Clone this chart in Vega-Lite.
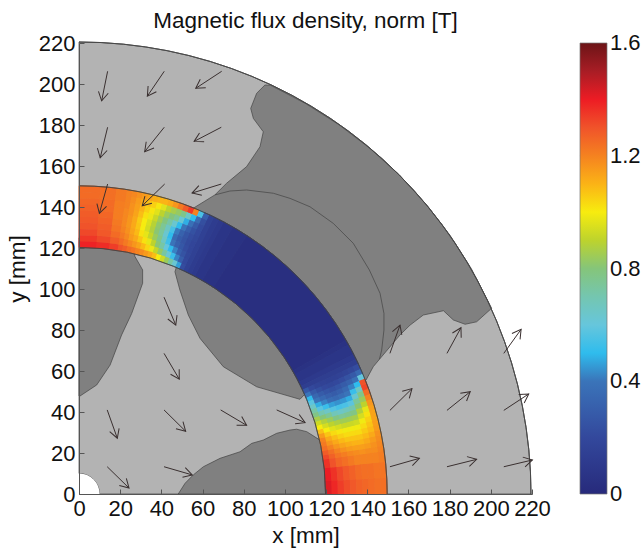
{"$schema":"https://vega.github.io/schema/vega-lite/v6.json","width":453,"height":451,"autosize":{"type":"none"},"padding":{"left":79,"top":43,"right":112,"bottom":55},"background":"white",
"title":{"text":"Magnetic flux density, norm [T]","font":"Liberation Sans","fontSize":22.5,"fontWeight":"normal","anchor":"middle","offset":0,"color":"#111"},
"config":{"view":{"stroke":null},"font":"Liberation Sans"},
"resolve":{"legend":{"color":"independent","stroke":"independent"}},
"datasets":{
"disc":[{"p":0,"q":90,"r":10,"s":220}],
"hole":[{"p":0,"q":90,"r":0,"s":10}],
"edges":[{"p":0,"q":90,"r":120,"s":120},{"p":0,"q":90,"r":150,"s":150},{"p":0,"q":90,"r":220,"s":220}],
"barticks":[{"x":243.3,"x2":245.7,"y":59.5},{"x":254,"x2":256.4,"y":59.5},{"x":243.3,"x2":245.7,"y":110},{"x":254,"x2":256.4,"y":110},{"x":243.3,"x2":245.7,"y":165},{"x":254,"x2":256.4,"y":165}],
"regions":[
{"id":"a","i":1,"x":90.3,"y":199.5},{"id":"a","i":2,"x":86.3,"y":195.5},{"id":"a","i":3,"x":83.4,"y":188.1},{"id":"a","i":4,"x":84.7,"y":183.2},{"id":"a","i":5,"x":89.5,"y":176.7},{"id":"a","i":6,"x":87.9,"y":169.4},{"id":"a","i":7,"x":81.4,"y":159.7},{"id":"a","i":8,"x":71.7,"y":151.6},{"id":"a","i":9,"x":66,"y":145.9},{"id":"a","i":10,"x":55.5,"y":139.4},{"id":"a","i":11,"x":51.7,"y":124.7},{"id":"a","i":12,"x":95.5,"y":95.5},{"id":"a","i":13,"x":125.2,"y":50.6},{"id":"a","i":14,"x":139.4,"y":55.6},{"id":"a","i":15,"x":142.9,"y":62.1},{"id":"a","i":16,"x":145.9,"y":65.7},{"id":"a","i":17,"x":155.9,"y":77.6},{"id":"a","i":18,"x":160.8,"y":82.4},{"id":"a","i":19,"x":167.2,"y":87.3},{"id":"a","i":20,"x":177,"y":89.4},{"id":"a","i":21,"x":181.8,"y":84.9},{"id":"a","i":22,"x":187.5,"y":82.8},{"id":"a","i":23,"x":193.1,"y":84},{"id":"a","i":24,"x":200.4,"y":90.6},{"id":"a","i":25,"x":190.5,"y":110},{"id":"a","i":26,"x":180.2,"y":126.2},{"id":"a","i":27,"x":168.5,"y":141.4},{"id":"a","i":28,"x":155.6,"y":155.6},{"id":"a","i":29,"x":141.4,"y":168.5},{"id":"a","i":30,"x":126.2,"y":180.2},{"id":"a","i":31,"x":110,"y":190.5},{"id":"a","i":32,"x":93,"y":199.4},{"id":"a","i":33,"x":90.3,"y":199.5},
{"id":"b","i":1,"x":46.6,"y":108.4},{"id":"b","i":2,"x":49,"y":99.5},{"id":"b","i":3,"x":53.1,"y":87.3},{"id":"b","i":4,"x":58.8,"y":75.9},{"id":"b","i":5,"x":70.1,"y":62.1},{"id":"b","i":6,"x":86.3,"y":52.3},{"id":"b","i":7,"x":107.3,"y":46.2},{"id":"b","i":8,"x":109.8,"y":48.8},{"id":"b","i":9,"x":125.2,"y":50.6},{"id":"b","i":10,"x":95.5,"y":95.5},{"id":"b","i":11,"x":51.7,"y":124.7},{"id":"b","i":12,"x":46.6,"y":108.4},
{"id":"c","i":1,"x":0,"y":125},{"id":"c","i":2,"x":25,"y":125},{"id":"c","i":3,"x":27.2,"y":115.8},{"id":"c","i":4,"x":30.9,"y":109.3},{"id":"c","i":5,"x":30.9,"y":102.8},{"id":"c","i":6,"x":25.6,"y":88.1},{"id":"c","i":7,"x":20.7,"y":77.6},{"id":"c","i":8,"x":15.1,"y":62.9},{"id":"c","i":9,"x":8.6,"y":53.2},{"id":"c","i":10,"x":0.5,"y":47.8},{"id":"c","i":11,"x":0,"y":47.8},{"id":"c","i":12,"x":0,"y":125},
{"id":"d","i":1,"x":48.2,"y":0},{"id":"d","i":2,"x":51.5,"y":5.2},{"id":"d","i":3,"x":55.5,"y":9.3},{"id":"d","i":4,"x":60.4,"y":13.3},{"id":"d","i":5,"x":68.5,"y":17.4},{"id":"d","i":6,"x":78.2,"y":20.6},{"id":"d","i":7,"x":83.9,"y":24.7},{"id":"d","i":8,"x":89.5,"y":26.3},{"id":"d","i":9,"x":96,"y":29.6},{"id":"d","i":10,"x":102.5,"y":31.2},{"id":"d","i":11,"x":105.7,"y":31.6},{"id":"d","i":12,"x":110.6,"y":30.4},{"id":"d","i":13,"x":117,"y":26.3},{"id":"d","i":14,"x":122,"y":20},{"id":"d","i":15,"x":125,"y":0},{"id":"d","i":16,"x":48.2,"y":0}],
"seam":[{"i":1,"x":66,"y":145.9},{"i":2,"x":73.3,"y":147.8},{"i":3,"x":81.4,"y":148.3},{"i":4,"x":94.4,"y":146.7},{"i":5,"x":102.5,"y":144.2},{"i":6,"x":112.2,"y":140.1},{"i":7,"x":123.5,"y":132},{"i":8,"x":133.2,"y":122.3},{"i":9,"x":141,"y":109.3},{"i":10,"x":146.2,"y":97.9},{"i":11,"x":148.1,"y":88.1},{"i":12,"x":148.1,"y":80},{"i":13,"x":147,"y":70.2},{"i":14,"x":145.9,"y":65.7}],
"arrows":[
{"x":13.9,"y":206.2,"x2":11,"y2":191.8,"a":191.4},{"x":41.4,"y":206.2,"x2":33.2,"y2":194.1,"a":214.1},{"x":69.3,"y":206.2,"x2":56.7,"y2":197.9,"a":236.6},
{"x":13.9,"y":178.9,"x2":10.3,"y2":164,"a":193.6},{"x":41.4,"y":178.9,"x2":31.9,"y2":167,"a":218.6},{"x":69.1,"y":178.9,"x2":55.9,"y2":172,"a":242.4},
{"x":13.9,"y":151.2,"x2":9.9,"y2":136.9,"a":195.6},{"x":41.6,"y":151.2,"x2":30.7,"y2":140.6,"a":225.8},{"x":69.1,"y":151.2,"x2":54.9,"y2":146.8,"a":252.8},
{"x":41.3,"y":96,"x2":47,"y2":82.4,"a":157.3},{"x":41.3,"y":68.6,"x2":48.7,"y2":56,"a":149.6},
{"x":13.7,"y":41,"x2":18.6,"y2":27.2,"a":160.5},{"x":41.3,"y":41,"x2":51.8,"y2":30.6,"a":134.7},{"x":68.8,"y":41,"x2":81.4,"y2":33.5,"a":120.8},{"x":96,"y":41,"x2":109.8,"y2":34.8,"a":114.2},
{"x":13.7,"y":13.3,"x2":24.3,"y2":2.9,"a":134.5},{"x":41.3,"y":13.3,"x2":55,"y2":9.3,"a":106.3},
{"x":151,"y":13.3,"x2":165.3,"y2":17.4,"a":74},{"x":178.7,"y":13.3,"x2":193.1,"y2":16.9,"a":76},{"x":206.3,"y":13.3,"x2":220.2,"y2":16.6,"a":76.6},
{"x":151,"y":40.8,"x2":161.7,"y2":51.4,"a":45.3},{"x":178.7,"y":40.8,"x2":190,"y2":49.9,"a":51.2},{"x":206.3,"y":40.8,"x2":218.4,"y2":48.8,"a":56.5},
{"x":151,"y":68.6,"x2":155.9,"y2":82.4,"a":19.5},{"x":178.7,"y":68.6,"x2":185.5,"y2":81.1,"a":28.5},{"x":206.3,"y":68.6,"x2":214.7,"y2":80.3,"a":35.7}],
"cells":[
{"p":30,"q":57,"r":120,"s":150,"b":0.03},{"p":29,"q":30,"r":120,"s":150,"b":0.05},{"p":27,"q":29,"r":120,"s":150,"b":0.07},{"p":26,"q":27,"r":120,"s":150,"b":0.1},{"p":25,"q":26,"r":120,"s":150,"b":0.13},{"p":57,"q":60,"r":120,"s":150,"b":0.05},{"p":60,"q":62,"r":120,"s":150,"b":0.07},{"p":62,"q":63,"r":120,"s":150,"b":0.1},{"p":63,"q":64,"r":120,"s":150,"b":0.12},{"p":64,"q":65,"r":120,"s":150,"b":0.15},
{"p":86,"q":90,"r":120,"s":123,"b":1.39},{"p":86,"q":90,"r":123,"s":126,"b":1.35},{"p":86,"q":90,"r":126,"s":129,"b":1.32},{"p":86,"q":90,"r":129,"s":132,"b":1.3},{"p":86,"q":90,"r":132,"s":135,"b":1.29},{"p":86,"q":90,"r":135,"s":138,"b":1.28},{"p":86,"q":90,"r":138,"s":141,"b":1.27},{"p":86,"q":90,"r":141,"s":144,"b":1.26},{"p":86,"q":90,"r":144,"s":147,"b":1.25},{"p":86,"q":90,"r":147,"s":150,"b":1.25},
{"p":83,"q":86,"r":120,"s":123,"b":1.37},{"p":83,"q":86,"r":123,"s":126,"b":1.32},{"p":83,"q":86,"r":126,"s":129,"b":1.29},{"p":83,"q":86,"r":129,"s":132,"b":1.28},{"p":83,"q":86,"r":132,"s":135,"b":1.27},{"p":83,"q":86,"r":135,"s":138,"b":1.26},{"p":83,"q":86,"r":138,"s":141,"b":1.25},{"p":83,"q":86,"r":141,"s":144,"b":1.25},{"p":83,"q":86,"r":144,"s":147,"b":1.24},{"p":83,"q":86,"r":147,"s":150,"b":1.24},
{"p":81,"q":83,"r":120,"s":123,"b":1.34},{"p":81,"q":83,"r":123,"s":126,"b":1.28},{"p":81,"q":83,"r":126,"s":129,"b":1.25},{"p":81,"q":83,"r":129,"s":132,"b":1.23},{"p":81,"q":83,"r":132,"s":135,"b":1.22},{"p":81,"q":83,"r":135,"s":138,"b":1.21},{"p":81,"q":83,"r":138,"s":141,"b":1.21},{"p":81,"q":83,"r":141,"s":144,"b":1.21},{"p":81,"q":83,"r":144,"s":147,"b":1.22},{"p":81,"q":83,"r":147,"s":150,"b":1.22},
{"p":80,"q":81,"r":120,"s":123,"b":1.3},{"p":80,"q":81,"r":123,"s":126,"b":1.25},{"p":80,"q":81,"r":126,"s":129,"b":1.22},{"p":80,"q":81,"r":129,"s":132,"b":1.2},{"p":80,"q":81,"r":132,"s":135,"b":1.19},{"p":80,"q":81,"r":135,"s":138,"b":1.19},{"p":80,"q":81,"r":138,"s":141,"b":1.19},{"p":80,"q":81,"r":141,"s":144,"b":1.2},{"p":80,"q":81,"r":144,"s":147,"b":1.2},{"p":80,"q":81,"r":147,"s":150,"b":1.2},
{"p":79,"q":80,"r":120,"s":123,"b":1.28},{"p":79,"q":80,"r":123,"s":126,"b":1.22},{"p":79,"q":80,"r":126,"s":129,"b":1.19},{"p":79,"q":80,"r":129,"s":132,"b":1.17},{"p":79,"q":80,"r":132,"s":135,"b":1.16},{"p":79,"q":80,"r":135,"s":138,"b":1.16},{"p":79,"q":80,"r":138,"s":141,"b":1.17},{"p":79,"q":80,"r":141,"s":144,"b":1.17},{"p":79,"q":80,"r":144,"s":147,"b":1.18},{"p":79,"q":80,"r":147,"s":150,"b":1.19},
{"p":78,"q":79,"r":120,"s":123,"b":1.25},{"p":78,"q":79,"r":123,"s":126,"b":1.19},{"p":78,"q":79,"r":126,"s":129,"b":1.15},{"p":78,"q":79,"r":129,"s":132,"b":1.13},{"p":78,"q":79,"r":132,"s":135,"b":1.12},{"p":78,"q":79,"r":135,"s":138,"b":1.12},{"p":78,"q":79,"r":138,"s":141,"b":1.13},{"p":78,"q":79,"r":141,"s":144,"b":1.14},{"p":78,"q":79,"r":144,"s":147,"b":1.15},{"p":78,"q":79,"r":147,"s":150,"b":1.17},
{"p":77,"q":78,"r":120,"s":123,"b":1.23},{"p":77,"q":78,"r":123,"s":126,"b":1.16},{"p":77,"q":78,"r":126,"s":129,"b":1.12},{"p":77,"q":78,"r":129,"s":132,"b":1.09},{"p":77,"q":78,"r":132,"s":135,"b":1.07},{"p":77,"q":78,"r":135,"s":138,"b":1.06},{"p":77,"q":78,"r":138,"s":141,"b":1.08},{"p":77,"q":78,"r":141,"s":144,"b":1.1},{"p":77,"q":78,"r":144,"s":147,"b":1.12},{"p":77,"q":78,"r":147,"s":150,"b":1.15},
{"p":76,"q":77,"r":120,"s":123,"b":1.2},{"p":76,"q":77,"r":123,"s":126,"b":1.13},{"p":76,"q":77,"r":126,"s":129,"b":1.07},{"p":76,"q":77,"r":129,"s":132,"b":1.02},{"p":76,"q":77,"r":132,"s":135,"b":1.0},{"p":76,"q":77,"r":135,"s":138,"b":1.0},{"p":76,"q":77,"r":138,"s":141,"b":1.02},{"p":76,"q":77,"r":141,"s":144,"b":1.05},{"p":76,"q":77,"r":144,"s":147,"b":1.08},{"p":76,"q":77,"r":147,"s":150,"b":1.13},
{"p":75,"q":76,"r":120,"s":123,"b":1.18},{"p":75,"q":76,"r":123,"s":126,"b":1.09},{"p":75,"q":76,"r":126,"s":129,"b":1.02},{"p":75,"q":76,"r":129,"s":132,"b":0.97},{"p":75,"q":76,"r":132,"s":135,"b":0.94},{"p":75,"q":76,"r":135,"s":138,"b":0.95},{"p":75,"q":76,"r":138,"s":141,"b":0.98},{"p":75,"q":76,"r":141,"s":144,"b":1.01},{"p":75,"q":76,"r":144,"s":147,"b":1.05},{"p":75,"q":76,"r":147,"s":150,"b":1.11},
{"p":74,"q":75,"r":120,"s":123,"b":1.15},{"p":74,"q":75,"r":123,"s":126,"b":1.04},{"p":74,"q":75,"r":126,"s":129,"b":0.97},{"p":74,"q":75,"r":129,"s":132,"b":0.91},{"p":74,"q":75,"r":132,"s":135,"b":0.88},{"p":74,"q":75,"r":135,"s":138,"b":0.89},{"p":74,"q":75,"r":138,"s":141,"b":0.92},{"p":74,"q":75,"r":141,"s":144,"b":0.96},{"p":74,"q":75,"r":144,"s":147,"b":1.01},{"p":74,"q":75,"r":147,"s":150,"b":1.1},
{"p":73,"q":74,"r":120,"s":123,"b":1.12},{"p":73,"q":74,"r":123,"s":126,"b":0.98},{"p":73,"q":74,"r":126,"s":129,"b":0.9},{"p":73,"q":74,"r":129,"s":132,"b":0.84},{"p":73,"q":74,"r":132,"s":135,"b":0.81},{"p":73,"q":74,"r":135,"s":138,"b":0.82},{"p":73,"q":74,"r":138,"s":141,"b":0.85},{"p":73,"q":74,"r":141,"s":144,"b":0.9},{"p":73,"q":74,"r":144,"s":147,"b":0.96},{"p":73,"q":74,"r":147,"s":150,"b":1.1},
{"p":72,"q":73,"r":120,"s":123,"b":1.08},{"p":72,"q":73,"r":123,"s":126,"b":0.91},{"p":72,"q":73,"r":126,"s":129,"b":0.81},{"p":72,"q":73,"r":129,"s":132,"b":0.77},{"p":72,"q":73,"r":132,"s":135,"b":0.74},{"p":72,"q":73,"r":135,"s":138,"b":0.75},{"p":72,"q":73,"r":138,"s":141,"b":0.79},{"p":72,"q":73,"r":141,"s":144,"b":0.84},{"p":72,"q":73,"r":144,"s":147,"b":0.9},{"p":72,"q":73,"r":147,"s":150,"b":1.12},
{"p":71,"q":72,"r":120,"s":123,"b":1.0},{"p":71,"q":72,"r":123,"s":126,"b":0.83},{"p":71,"q":72,"r":126,"s":129,"b":0.72},{"p":71,"q":72,"r":129,"s":132,"b":0.66},{"p":71,"q":72,"r":132,"s":135,"b":0.63},{"p":71,"q":72,"r":135,"s":138,"b":0.66},{"p":71,"q":72,"r":138,"s":141,"b":0.72},{"p":71,"q":72,"r":141,"s":144,"b":0.8},{"p":71,"q":72,"r":144,"s":147,"b":0.86},{"p":71,"q":72,"r":147,"s":150,"b":1.16},
{"p":70,"q":71,"r":120,"s":123,"b":0.93},{"p":70,"q":71,"r":123,"s":126,"b":0.73},{"p":70,"q":71,"r":126,"s":129,"b":0.6},{"p":70,"q":71,"r":129,"s":132,"b":0.53},{"p":70,"q":71,"r":132,"s":135,"b":0.5},{"p":70,"q":71,"r":135,"s":138,"b":0.54},{"p":70,"q":71,"r":138,"s":141,"b":0.63},{"p":70,"q":71,"r":141,"s":144,"b":0.75},{"p":70,"q":71,"r":144,"s":147,"b":0.83},{"p":70,"q":71,"r":147,"s":150,"b":1.22},
{"p":69,"q":70,"r":120,"s":123,"b":0.84},{"p":69,"q":70,"r":123,"s":126,"b":0.62},{"p":69,"q":70,"r":126,"s":129,"b":0.5},{"p":69,"q":70,"r":129,"s":132,"b":0.4},{"p":69,"q":70,"r":132,"s":135,"b":0.36},{"p":69,"q":70,"r":135,"s":138,"b":0.41},{"p":69,"q":70,"r":138,"s":141,"b":0.5},{"p":69,"q":70,"r":141,"s":144,"b":0.62},{"p":69,"q":70,"r":144,"s":147,"b":0.77},{"p":69,"q":70,"r":147,"s":150,"b":1.28},
{"p":68,"q":69,"r":120,"s":123,"b":0.72},{"p":68,"q":69,"r":123,"s":126,"b":0.52},{"p":68,"q":69,"r":126,"s":129,"b":0.42},{"p":68,"q":69,"r":129,"s":132,"b":0.32},{"p":68,"q":69,"r":132,"s":135,"b":0.29},{"p":68,"q":69,"r":135,"s":138,"b":0.32},{"p":68,"q":69,"r":138,"s":141,"b":0.4},{"p":68,"q":69,"r":141,"s":144,"b":0.48},{"p":68,"q":69,"r":144,"s":147,"b":0.65},{"p":68,"q":69,"r":147,"s":150,"b":1.35},
{"p":67,"q":68,"r":120,"s":123,"b":0.62},{"p":67,"q":68,"r":123,"s":126,"b":0.42},{"p":67,"q":68,"r":126,"s":129,"b":0.3},{"p":67,"q":68,"r":129,"s":132,"b":0.27},{"p":67,"q":68,"r":132,"s":135,"b":0.25},{"p":67,"q":68,"r":135,"s":138,"b":0.26},{"p":67,"q":68,"r":138,"s":141,"b":0.3},{"p":67,"q":68,"r":141,"s":144,"b":0.38},{"p":67,"q":68,"r":144,"s":147,"b":0.5},{"p":67,"q":68,"r":147,"s":150,"b":1.2},
{"p":66,"q":67,"r":120,"s":123,"b":0.46},{"p":66,"q":67,"r":123,"s":126,"b":0.3},{"p":66,"q":67,"r":126,"s":129,"b":0.25},{"p":66,"q":67,"r":129,"s":132,"b":0.22},{"p":66,"q":67,"r":132,"s":135,"b":0.21},{"p":66,"q":67,"r":135,"s":138,"b":0.22},{"p":66,"q":67,"r":138,"s":141,"b":0.24},{"p":66,"q":67,"r":141,"s":144,"b":0.28},{"p":66,"q":67,"r":144,"s":147,"b":0.36},{"p":66,"q":67,"r":147,"s":150,"b":0.55},
{"p":65,"q":66,"r":120,"s":123,"b":0.22},{"p":65,"q":66,"r":123,"s":126,"b":0.2},{"p":65,"q":66,"r":126,"s":129,"b":0.19},{"p":65,"q":66,"r":129,"s":132,"b":0.18},{"p":65,"q":66,"r":132,"s":135,"b":0.18},{"p":65,"q":66,"r":135,"s":138,"b":0.19},{"p":65,"q":66,"r":138,"s":141,"b":0.2},{"p":65,"q":66,"r":141,"s":144,"b":0.21},{"p":65,"q":66,"r":144,"s":147,"b":0.23},{"p":65,"q":66,"r":147,"s":150,"b":0.3},
{"p":0,"q":3,"r":120,"s":123,"b":1.42},{"p":0,"q":3,"r":123,"s":126,"b":1.38},{"p":0,"q":3,"r":126,"s":129,"b":1.34},{"p":0,"q":3,"r":129,"s":132,"b":1.31},{"p":0,"q":3,"r":132,"s":135,"b":1.29},{"p":0,"q":3,"r":135,"s":138,"b":1.27},{"p":0,"q":3,"r":138,"s":141,"b":1.26},{"p":0,"q":3,"r":141,"s":144,"b":1.25},{"p":0,"q":3,"r":144,"s":147,"b":1.24},{"p":0,"q":3,"r":147,"s":150,"b":1.24},
{"p":3,"q":6,"r":120,"s":123,"b":1.4},{"p":3,"q":6,"r":123,"s":126,"b":1.36},{"p":3,"q":6,"r":126,"s":129,"b":1.32},{"p":3,"q":6,"r":129,"s":132,"b":1.29},{"p":3,"q":6,"r":132,"s":135,"b":1.27},{"p":3,"q":6,"r":135,"s":138,"b":1.25},{"p":3,"q":6,"r":138,"s":141,"b":1.24},{"p":3,"q":6,"r":141,"s":144,"b":1.24},{"p":3,"q":6,"r":144,"s":147,"b":1.23},{"p":3,"q":6,"r":147,"s":150,"b":1.23},
{"p":6,"q":8,"r":120,"s":123,"b":1.36},{"p":6,"q":8,"r":123,"s":126,"b":1.3},{"p":6,"q":8,"r":126,"s":129,"b":1.26},{"p":6,"q":8,"r":129,"s":132,"b":1.24},{"p":6,"q":8,"r":132,"s":135,"b":1.22},{"p":6,"q":8,"r":135,"s":138,"b":1.2},{"p":6,"q":8,"r":138,"s":141,"b":1.2},{"p":6,"q":8,"r":141,"s":144,"b":1.2},{"p":6,"q":8,"r":144,"s":147,"b":1.2},{"p":6,"q":8,"r":147,"s":150,"b":1.21},
{"p":8,"q":9,"r":120,"s":123,"b":1.32},{"p":8,"q":9,"r":123,"s":126,"b":1.27},{"p":8,"q":9,"r":126,"s":129,"b":1.23},{"p":8,"q":9,"r":129,"s":132,"b":1.21},{"p":8,"q":9,"r":132,"s":135,"b":1.19},{"p":8,"q":9,"r":135,"s":138,"b":1.18},{"p":8,"q":9,"r":138,"s":141,"b":1.17},{"p":8,"q":9,"r":141,"s":144,"b":1.18},{"p":8,"q":9,"r":144,"s":147,"b":1.18},{"p":8,"q":9,"r":147,"s":150,"b":1.2},
{"p":9,"q":10,"r":120,"s":123,"b":1.28},{"p":9,"q":10,"r":123,"s":126,"b":1.24},{"p":9,"q":10,"r":126,"s":129,"b":1.2},{"p":9,"q":10,"r":129,"s":132,"b":1.17},{"p":9,"q":10,"r":132,"s":135,"b":1.15},{"p":9,"q":10,"r":135,"s":138,"b":1.14},{"p":9,"q":10,"r":138,"s":141,"b":1.14},{"p":9,"q":10,"r":141,"s":144,"b":1.15},{"p":9,"q":10,"r":144,"s":147,"b":1.17},{"p":9,"q":10,"r":147,"s":150,"b":1.19},
{"p":10,"q":11,"r":120,"s":123,"b":1.24},{"p":10,"q":11,"r":123,"s":126,"b":1.2},{"p":10,"q":11,"r":126,"s":129,"b":1.16},{"p":10,"q":11,"r":129,"s":132,"b":1.13},{"p":10,"q":11,"r":132,"s":135,"b":1.11},{"p":10,"q":11,"r":135,"s":138,"b":1.1},{"p":10,"q":11,"r":138,"s":141,"b":1.1},{"p":10,"q":11,"r":141,"s":144,"b":1.12},{"p":10,"q":11,"r":144,"s":147,"b":1.15},{"p":10,"q":11,"r":147,"s":150,"b":1.18},
{"p":11,"q":12,"r":120,"s":123,"b":1.22},{"p":11,"q":12,"r":123,"s":126,"b":1.16},{"p":11,"q":12,"r":126,"s":129,"b":1.12},{"p":11,"q":12,"r":129,"s":132,"b":1.09},{"p":11,"q":12,"r":132,"s":135,"b":1.07},{"p":11,"q":12,"r":135,"s":138,"b":1.07},{"p":11,"q":12,"r":138,"s":141,"b":1.07},{"p":11,"q":12,"r":141,"s":144,"b":1.09},{"p":11,"q":12,"r":144,"s":147,"b":1.12},{"p":11,"q":12,"r":147,"s":150,"b":1.17},
{"p":12,"q":13,"r":120,"s":123,"b":1.2},{"p":12,"q":13,"r":123,"s":126,"b":1.12},{"p":12,"q":13,"r":126,"s":129,"b":1.08},{"p":12,"q":13,"r":129,"s":132,"b":1.05},{"p":12,"q":13,"r":132,"s":135,"b":1.03},{"p":12,"q":13,"r":135,"s":138,"b":1.03},{"p":12,"q":13,"r":138,"s":141,"b":1.03},{"p":12,"q":13,"r":141,"s":144,"b":1.06},{"p":12,"q":13,"r":144,"s":147,"b":1.09},{"p":12,"q":13,"r":147,"s":150,"b":1.15},
{"p":13,"q":14,"r":120,"s":123,"b":1.15},{"p":13,"q":14,"r":123,"s":126,"b":1.07},{"p":13,"q":14,"r":126,"s":129,"b":1.03},{"p":13,"q":14,"r":129,"s":132,"b":1.01},{"p":13,"q":14,"r":132,"s":135,"b":0.99},{"p":13,"q":14,"r":135,"s":138,"b":0.99},{"p":13,"q":14,"r":138,"s":141,"b":0.99},{"p":13,"q":14,"r":141,"s":144,"b":1.03},{"p":13,"q":14,"r":144,"s":147,"b":1.07},{"p":13,"q":14,"r":147,"s":150,"b":1.14},
{"p":14,"q":15,"r":120,"s":123,"b":1.08},{"p":14,"q":15,"r":123,"s":126,"b":1.0},{"p":14,"q":15,"r":126,"s":129,"b":0.96},{"p":14,"q":15,"r":129,"s":132,"b":0.94},{"p":14,"q":15,"r":132,"s":135,"b":0.92},{"p":14,"q":15,"r":135,"s":138,"b":0.92},{"p":14,"q":15,"r":138,"s":141,"b":0.93},{"p":14,"q":15,"r":141,"s":144,"b":0.99},{"p":14,"q":15,"r":144,"s":147,"b":1.05},{"p":14,"q":15,"r":147,"s":150,"b":1.13},
{"p":15,"q":16,"r":120,"s":123,"b":1.0},{"p":15,"q":16,"r":123,"s":126,"b":0.94},{"p":15,"q":16,"r":126,"s":129,"b":0.9},{"p":15,"q":16,"r":129,"s":132,"b":0.87},{"p":15,"q":16,"r":132,"s":135,"b":0.85},{"p":15,"q":16,"r":135,"s":138,"b":0.85},{"p":15,"q":16,"r":138,"s":141,"b":0.86},{"p":15,"q":16,"r":141,"s":144,"b":0.94},{"p":15,"q":16,"r":144,"s":147,"b":1.02},{"p":15,"q":16,"r":147,"s":150,"b":1.13},
{"p":16,"q":17,"r":120,"s":123,"b":0.93},{"p":16,"q":17,"r":123,"s":126,"b":0.88},{"p":16,"q":17,"r":126,"s":129,"b":0.84},{"p":16,"q":17,"r":129,"s":132,"b":0.78},{"p":16,"q":17,"r":132,"s":135,"b":0.75},{"p":16,"q":17,"r":135,"s":138,"b":0.76},{"p":16,"q":17,"r":138,"s":141,"b":0.78},{"p":16,"q":17,"r":141,"s":144,"b":0.88},{"p":16,"q":17,"r":144,"s":147,"b":0.97},{"p":16,"q":17,"r":147,"s":150,"b":1.14},
{"p":17,"q":18,"r":120,"s":123,"b":0.86},{"p":17,"q":18,"r":123,"s":126,"b":0.8},{"p":17,"q":18,"r":126,"s":129,"b":0.75},{"p":17,"q":18,"r":129,"s":132,"b":0.68},{"p":17,"q":18,"r":132,"s":135,"b":0.65},{"p":17,"q":18,"r":135,"s":138,"b":0.67},{"p":17,"q":18,"r":138,"s":141,"b":0.7},{"p":17,"q":18,"r":141,"s":144,"b":0.81},{"p":17,"q":18,"r":144,"s":147,"b":0.9},{"p":17,"q":18,"r":147,"s":150,"b":1.16},
{"p":18,"q":19,"r":120,"s":123,"b":0.78},{"p":18,"q":19,"r":123,"s":126,"b":0.7},{"p":18,"q":19,"r":126,"s":129,"b":0.65},{"p":18,"q":19,"r":129,"s":132,"b":0.57},{"p":18,"q":19,"r":132,"s":135,"b":0.54},{"p":18,"q":19,"r":135,"s":138,"b":0.55},{"p":18,"q":19,"r":138,"s":141,"b":0.58},{"p":18,"q":19,"r":141,"s":144,"b":0.74},{"p":18,"q":19,"r":144,"s":147,"b":0.84},{"p":18,"q":19,"r":147,"s":150,"b":1.2},
{"p":19,"q":20,"r":120,"s":123,"b":0.72},{"p":19,"q":20,"r":123,"s":126,"b":0.58},{"p":19,"q":20,"r":126,"s":129,"b":0.52},{"p":19,"q":20,"r":129,"s":132,"b":0.46},{"p":19,"q":20,"r":132,"s":135,"b":0.44},{"p":19,"q":20,"r":135,"s":138,"b":0.45},{"p":19,"q":20,"r":138,"s":141,"b":0.48},{"p":19,"q":20,"r":141,"s":144,"b":0.63},{"p":19,"q":20,"r":144,"s":147,"b":0.77},{"p":19,"q":20,"r":147,"s":150,"b":1.25},
{"p":20,"q":21,"r":120,"s":123,"b":0.65},{"p":20,"q":21,"r":123,"s":126,"b":0.48},{"p":20,"q":21,"r":126,"s":129,"b":0.42},{"p":20,"q":21,"r":129,"s":132,"b":0.37},{"p":20,"q":21,"r":132,"s":135,"b":0.35},{"p":20,"q":21,"r":135,"s":138,"b":0.37},{"p":20,"q":21,"r":138,"s":141,"b":0.4},{"p":20,"q":21,"r":141,"s":144,"b":0.52},{"p":20,"q":21,"r":144,"s":147,"b":0.66},{"p":20,"q":21,"r":147,"s":150,"b":1.32},
{"p":21,"q":22,"r":120,"s":123,"b":0.58},{"p":21,"q":22,"r":123,"s":126,"b":0.4},{"p":21,"q":22,"r":126,"s":129,"b":0.35},{"p":21,"q":22,"r":129,"s":132,"b":0.31},{"p":21,"q":22,"r":132,"s":135,"b":0.29},{"p":21,"q":22,"r":135,"s":138,"b":0.31},{"p":21,"q":22,"r":138,"s":141,"b":0.35},{"p":21,"q":22,"r":141,"s":144,"b":0.42},{"p":21,"q":22,"r":144,"s":147,"b":0.5},{"p":21,"q":22,"r":147,"s":150,"b":1.3},
{"p":22,"q":23,"r":120,"s":123,"b":0.5},{"p":22,"q":23,"r":123,"s":126,"b":0.34},{"p":22,"q":23,"r":126,"s":129,"b":0.29},{"p":22,"q":23,"r":129,"s":132,"b":0.26},{"p":22,"q":23,"r":132,"s":135,"b":0.24},{"p":22,"q":23,"r":135,"s":138,"b":0.26},{"p":22,"q":23,"r":138,"s":141,"b":0.29},{"p":22,"q":23,"r":141,"s":144,"b":0.32},{"p":22,"q":23,"r":144,"s":147,"b":0.38},{"p":22,"q":23,"r":147,"s":150,"b":0.6},
{"p":23,"q":24,"r":120,"s":123,"b":0.4},{"p":23,"q":24,"r":123,"s":126,"b":0.28},{"p":23,"q":24,"r":126,"s":129,"b":0.23},{"p":23,"q":24,"r":129,"s":132,"b":0.2},{"p":23,"q":24,"r":132,"s":135,"b":0.19},{"p":23,"q":24,"r":135,"s":138,"b":0.2},{"p":23,"q":24,"r":138,"s":141,"b":0.22},{"p":23,"q":24,"r":141,"s":144,"b":0.25},{"p":23,"q":24,"r":144,"s":147,"b":0.28},{"p":23,"q":24,"r":147,"s":150,"b":0.35},
{"p":24,"q":25,"r":120,"s":123,"b":0.27},{"p":24,"q":25,"r":123,"s":126,"b":0.2},{"p":24,"q":25,"r":126,"s":129,"b":0.17},{"p":24,"q":25,"r":129,"s":132,"b":0.16},{"p":24,"q":25,"r":132,"s":135,"b":0.15},{"p":24,"q":25,"r":135,"s":138,"b":0.15},{"p":24,"q":25,"r":138,"s":141,"b":0.16},{"p":24,"q":25,"r":141,"s":144,"b":0.17},{"p":24,"q":25,"r":144,"s":147,"b":0.19},{"p":24,"q":25,"r":147,"s":150,"b":0.22}
]},
"layer":[
{"data":{"name":"disc"},"mark":{"type":"arc","fill":"#b3b3b3","stroke":"#444","strokeWidth":0.7},
"encoding":{"x":{"datum":0,"type":"quantitative","scale":{"domain":[0,220],"nice":false},"axis":{"values":[0,20,40,60,80,100,120,140,160,180,200,220],"title":"x [mm]","titleFont":"Liberation Sans","titleFontSize":22.5,"titleFontWeight":"normal","titleColor":"#111","titlePadding":5,"labelFont":"Liberation Sans","labelFontSize":22,"labelColor":"#111","labelPadding":9,"grid":false,"domainColor":"#555","tickColor":"#555","tickSize":-5,"zindex":1,"labelOverlap":false,"labelFlush":false}},
"y":{"datum":0,"type":"quantitative","scale":{"domain":[0,220],"nice":false},"axis":{"values":[0,20,40,60,80,100,120,140,160,180,200,220],"title":"y [mm]","titleFont":"Liberation Sans","titleFontSize":22.5,"titleFontWeight":"normal","titleColor":"#111","titlePadding":9,"labelFont":"Liberation Sans","labelFontSize":22,"labelColor":"#111","labelPadding":9,"grid":false,"domainColor":"#555","tickColor":"#555","tickSize":-5,"zindex":1,"labelOverlap":false,"labelFlush":false}},
"theta":{"field":"p","type":"quantitative","stack":null,"scale":{"domain":[90,0],"range":[0,1.5708]}},"theta2":{"field":"q"},
"radius":{"field":"r","type":"quantitative","scale":{"type":"linear","domain":[0,220],"range":[0,452]}},"radius2":{"field":"s"}}},
{"data":{"name":"hole"},"mark":{"type":"arc","fill":"white","stroke":null},
"encoding":{"x":{"datum":0,"type":"quantitative"},"y":{"datum":0,"type":"quantitative"},
"theta":{"field":"p","type":"quantitative","stack":null,"scale":{"domain":[90,0],"range":[0,1.5708]}},"theta2":{"field":"q"},
"radius":{"field":"r","type":"quantitative","scale":{"type":"linear","domain":[0,220],"range":[0,452]}},"radius2":{"field":"s"}}},
{"data":{"name":"regions"},"mark":{"type":"line","fill":"#808080","stroke":"#444","strokeWidth":0.7},
"encoding":{"x":{"field":"x","type":"quantitative"},"y":{"field":"y","type":"quantitative"},"detail":{"field":"id"},"order":{"field":"i"}}},
{"data":{"name":"seam"},"mark":{"type":"line","stroke":"#444","strokeWidth":0.7},
"encoding":{"x":{"field":"x","type":"quantitative"},"y":{"field":"y","type":"quantitative"},"order":{"field":"i"}}},
{"data":{"name":"cells"},"mark":{"type":"arc","fillOpacity":0,"strokeWidth":0.8},
"encoding":{"x":{"datum":0,"type":"quantitative"},"y":{"datum":0,"type":"quantitative"},
"theta":{"field":"p","type":"quantitative","stack":null,"scale":{"domain":[90,0],"range":[0,1.5708]}},"theta2":{"field":"q"},
"radius":{"field":"r","type":"quantitative","scale":{"type":"linear","domain":[0,220],"range":[0,452]}},"radius2":{"field":"s"},
"stroke":{"field":"b","type":"quantitative","legend":null,"scale":{"interpolate":"rgb","domain":[0,0.2,0.4,0.5,0.6,0.7,0.8,0.9,1.0,1.1,1.2,1.3,1.4,1.5,1.6],"range":["#272a7b","#33489c","#3a74b9","#2fbced","#66c6dc","#74c6b0","#85c57a","#bdd32d","#f7ec0f","#fbb316","#f58220","#f0532a","#ed1c24","#a81d25","#6c1417"]}}}},
{"data":{"name":"cells"},"mark":{"type":"arc"},
"encoding":{"x":{"datum":0,"type":"quantitative"},"y":{"datum":0,"type":"quantitative"},
"theta":{"field":"p","type":"quantitative","stack":null,"scale":{"domain":[90,0],"range":[0,1.5708]}},"theta2":{"field":"q"},
"radius":{"field":"r","type":"quantitative","scale":{"type":"linear","domain":[0,220],"range":[0,452]}},"radius2":{"field":"s"},
"color":{"field":"b","type":"quantitative","scale":{"interpolate":"rgb","domain":[0,0.2,0.4,0.5,0.6,0.7,0.8,0.9,1.0,1.1,1.2,1.3,1.4,1.5,1.6],"range":["#272a7b","#33489c","#3a74b9","#2fbced","#66c6dc","#74c6b0","#85c57a","#bdd32d","#f7ec0f","#fbb316","#f58220","#f0532a","#ed1c24","#a81d25","#6c1417"]},
"legend":{"type":"gradient","direction":"vertical","orient":"none","legendX":501,"legendY":0,"title":null,"gradientLength":451,"gradientThickness":27,"gradientStrokeColor":"#777","gradientStrokeWidth":0.7,"values":[0,0.4,0.8,1.2,1.6],"labelExpr":"datum.value==0?'0':datum.label","labelFont":"Liberation Sans","labelFontSize":22,"labelColor":"#111","labelOffset":3,"labelOverlap":false,"encode":{"labels":{"update":{"baseline":{"value":"middle"}}}}}}}},
{"data":{"name":"edges"},"mark":{"type":"arc","fillOpacity":0,"stroke":"#444","strokeWidth":0.7},
"encoding":{"x":{"datum":0,"type":"quantitative"},"y":{"datum":0,"type":"quantitative"},
"theta":{"field":"p","type":"quantitative","stack":null,"scale":{"domain":[90,0],"range":[0,1.5708]}},"theta2":{"field":"q"},
"radius":{"field":"r","type":"quantitative","scale":{"type":"linear","domain":[0,220],"range":[0,452]}},"radius2":{"field":"s"}}},
{"data":{"name":"barticks"},"mark":{"type":"rule","stroke":"#444","strokeWidth":1},
"encoding":{"x":{"field":"x","type":"quantitative"},"x2":{"field":"x2"},"y":{"field":"y","type":"quantitative"}}},
{"data":{"name":"arrows"},"mark":{"type":"rule","stroke":"#3a3030","strokeWidth":1},
"encoding":{"x":{"field":"x","type":"quantitative"},"y":{"field":"y","type":"quantitative"},"x2":{"field":"x2"},"y2":{"field":"y2"}}},
{"data":{"name":"arrows"},"mark":{"type":"point","filled":false,"stroke":"#3a3030","strokeWidth":1,"opacity":1,"size":400,"shape":"M-0.5,0.87L0,0L0.5,0.87"},
"encoding":{"x":{"field":"x2","type":"quantitative"},"y":{"field":"y2","type":"quantitative"},"angle":{"field":"a","type":"quantitative","scale":null}}}
]}
